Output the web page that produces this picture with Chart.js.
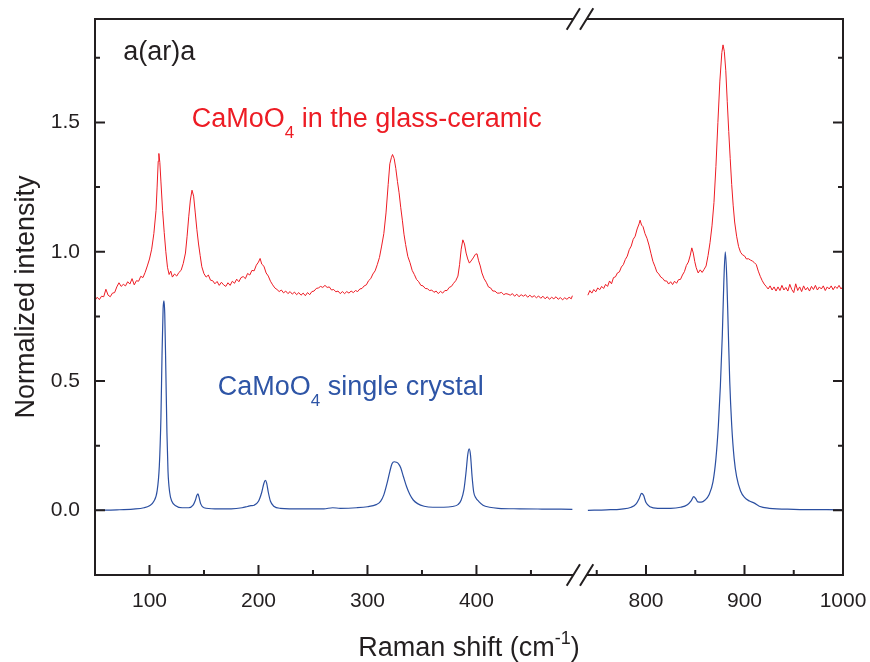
<!DOCTYPE html>
<html lang="en">
<head>
    <meta charset="UTF-8">
    <title>Raman CaMoO4</title>
    <style>
        body {
            margin: 0;
            background-color: #ffffff;
        }
        #contenedor {
            width: 870px;
            height: 662px;
        }
    </style>
</head>
<body>
    <div id="contenedor">
        <canvas id="grafica" width="870" height="662"></canvas>
    </div>

    <script src="https://cdn.jsdelivr.net/npm/chart.js"></script>
    <script>
        // Espectro del vitrocerámico (rojo), tramo bajo y tramo alto, [cm-1, intensidad]
        const rojoBajo = [
            [50,0.812],[52,0.824],[54,0.815],[56,0.828],[58,0.826],[60,0.855],[62,0.832],[64,0.826],[66,0.840],[68,0.842],
            [70,0.864],[72,0.880],[74,0.866],[76,0.874],[78,0.868],[80,0.884],[82,0.875],[84,0.896],[86,0.872],[88,0.888],
            [90,0.886],[92,0.905],[94,0.900],[96,0.920],[98,0.945],[100,0.972],[102,1.010],[104,1.070],[106,1.160],[107,1.250],
            [108,1.350],[108.6,1.380],[109.5,1.345],[110.5,1.270],[112,1.160],[113.5,1.075],[115,1.000],[116.5,0.940],[118,0.912],[119.5,0.925],
            [121,0.902],[123,0.914],[125,0.906],[127,0.920],[129,0.928],[131,0.955],[133,0.995],[134.5,1.060],[136,1.135],[137.5,1.200],
            [139,1.238],[140.5,1.215],[142,1.150],[143.5,1.085],[145,1.030],[146.5,0.985],[148,0.942],[150,0.915],[152,0.902],[154,0.910],
            [156,0.890],[158,0.888],[160,0.876],[162,0.885],[164,0.870],[166,0.882],[168,0.872],[170,0.866],[172,0.880],[174,0.870],
            [176,0.886],[178,0.878],[180,0.894],[182,0.884],[184,0.900],[186,0.904],[188,0.896],[190,0.916],[192,0.910],[194,0.928],
            [196,0.926],[198,0.948],[200,0.960],[201.5,0.974],[203,0.952],[205,0.944],[207,0.918],[209,0.906],[211,0.886],[213,0.872],
            [215,0.860],[217,0.854],[219,0.846],[221,0.852],[223,0.841],[225,0.848],[227,0.838],[229,0.846],[231,0.836],[233,0.844],
            [235,0.834],[237,0.842],[239,0.832],[241,0.840],[243,0.830],[245,0.842],[247,0.834],[249,0.846],[251,0.848],[253,0.858],
            [255,0.860],[257,0.866],[259,0.862],[261,0.870],[263,0.862],[265,0.864],[267,0.852],[269,0.854],[271,0.845],[273,0.848],
            [275,0.838],[277,0.846],[279,0.838],[281,0.846],[283,0.840],[285,0.848],[287,0.842],[289,0.850],[291,0.846],[293,0.856],
            [295,0.858],[297,0.868],[299,0.872],[301,0.888],[303,0.896],[305,0.914],[307,0.926],[309,0.950],[311,0.978],[313,1.022],
            [315,1.070],[317,1.150],[319,1.260],[320.5,1.340],[322,1.365],[323,1.376],[324.5,1.360],[326,1.322],[327.5,1.272],[329,1.228],
            [330.5,1.172],[332,1.122],[333.5,1.068],[335,1.028],[337,0.982],[339,0.958],[341,0.928],[343,0.912],[345,0.893],[347,0.884],
            [349,0.870],[351,0.868],[353,0.858],[355,0.857],[357,0.850],[359,0.852],[361,0.843],[363,0.848],[365,0.838],[367,0.847],
            [369,0.840],[371,0.850],[373,0.850],[375,0.862],[377,0.866],[379,0.878],[381,0.888],[383,0.906],[384.5,0.950],[386,1.010],
            [387.5,1.046],[389,1.030],[390.5,0.995],[392,0.972],[393.5,0.956],[395,0.964],[397,0.976],[399,0.990],[400.5,0.992],[402,0.965],
            [403.5,0.945],[405,0.918],[407,0.896],[409,0.882],[411,0.864],[413,0.860],[415,0.848],[417,0.848],[419,0.840],[421,0.840],
            [423,0.843],[425,0.834],[427,0.838],[429,0.836],[431,0.832],[433,0.838],[435,0.828],[437,0.836],[439,0.826],[441,0.834],
            [443,0.828],[445,0.834],[447,0.824],[449,0.832],[451,0.824],[453,0.830],[455,0.822],[457,0.829],[459,0.820],[461,0.828],
            [463,0.818],[465,0.826],[467,0.816],[469,0.824],[471,0.818],[473,0.826],[475,0.816],[477,0.823],[479,0.814],[481,0.822],
            [483,0.816],[485,0.824],[487,0.818],[488,0.830]
        ];
        const rojoAlto = [
            [741,0.832],[743,0.850],[745,0.840],[747,0.854],[749,0.845],[751,0.860],[753,0.853],[755,0.866],[757,0.858],[759,0.874],
            [761,0.866],[763,0.887],[765,0.876],[767,0.900],[769,0.903],[771,0.918],[773,0.922],[775,0.941],[777,0.950],[779,0.970],
            [781,0.983],[783,1.008],[785,1.022],[787,1.048],[789,1.060],[791,1.088],[793,1.108],[794,1.122],[795.5,1.103],[797,1.097],
            [799,1.070],[801,1.052],[803,1.026],[805,0.994],[807,0.963],[809,0.944],[811,0.922],[813,0.914],[815,0.902],[817,0.897],
            [819,0.887],[821,0.887],[823,0.875],[825,0.884],[827,0.873],[829,0.886],[831,0.878],[833,0.892],[835,0.893],[837,0.910],
            [839,0.923],[841,0.947],[843,0.960],[845,0.987],[846.5,1.015],[848,0.995],[849.5,0.962],[851,0.938],[853,0.918],[855,0.930],
            [857,0.920],[859,0.932],[861,0.945],[863,0.985],[865,1.035],[867,1.100],[869,1.190],[871,1.330],[873,1.500],[875,1.660],
            [877,1.770],[878.2,1.800],[879.5,1.775],[881,1.700],[882.5,1.580],[884,1.465],[885.5,1.360],[887,1.260],[888.5,1.180],[890,1.115],
            [892,1.060],[894,1.020],[896,0.998],[898,0.988],[900,0.984],[902,0.972],[904,0.973],[906,0.968],[908,0.964],[910,0.958],
            [912,0.950],[914,0.925],[916,0.905],[918,0.888],[920,0.875],[922,0.866],[924,0.856],[926,0.868],[928,0.852],[930,0.864],
            [932,0.848],[934,0.864],[936,0.850],[938,0.870],[940,0.852],[942,0.862],[944,0.848],[946,0.874],[948,0.854],[950,0.842],
            [952,0.876],[954,0.850],[956,0.864],[958,0.846],[960,0.868],[962,0.852],[964,0.862],[966,0.848],[968,0.866],[970,0.854],
            [972,0.870],[974,0.852],[976,0.864],[978,0.856],[980,0.868],[982,0.850],[984,0.864],[986,0.856],[988,0.868],[990,0.853],
            [992,0.866],[994,0.858],[996,0.870],[998,0.856],[1000,0.866]
        ];

        // Espectro del monocristal (azul)
        const azulBajo = [
            [50,0.000],[70,0.002],[85,0.005],[95,0.010],[100,0.018],[104,0.035],[107,0.075],[109,0.170],[110.5,0.360],[111.5,0.600],
            [112.5,0.780],[113.3,0.810],[114,0.760],[115,0.540],[116,0.300],[117,0.150],[118.5,0.070],[120.5,0.035],[124,0.018],[130,0.010],
            [136,0.010],[140,0.020],[142,0.038],[143.5,0.058],[144.5,0.064],[145.5,0.050],[147,0.025],[150,0.010],[160,0.006],[175,0.006],
            [185,0.010],[190,0.015],[193,0.018],[196,0.020],[200,0.035],[203,0.070],[205,0.105],[206.3,0.116],[207.5,0.105],[209,0.070],
            [211,0.035],[214,0.016],[220,0.008],[240,0.006],[260,0.006],[268,0.010],[275,0.008],[290,0.010],[300,0.014],[308,0.022],
            [312,0.035],[315,0.060],[318,0.105],[320.5,0.150],[322.5,0.180],[324.5,0.188],[326.5,0.186],[328.5,0.180],[330.5,0.165],[333,0.130],
            [336,0.090],[339,0.060],[342,0.040],[346,0.026],[352,0.016],[360,0.012],[370,0.012],[378,0.015],[383,0.022],[386,0.040],
            [388.5,0.080],[390.5,0.150],[392,0.215],[393.3,0.238],[394.5,0.215],[396,0.130],[397.5,0.070],[399.5,0.048],[402,0.035],[406,0.020],
            [412,0.012],[420,0.008],[440,0.006],[460,0.005],[488,0.004]
        ];
        const azulAlto = [
            [741,0.000],[760,0.002],[775,0.005],[785,0.012],[790,0.025],[793,0.045],[795.5,0.066],[797.5,0.058],[800,0.030],[804,0.014],
            [812,0.008],[825,0.008],[835,0.012],[842,0.022],[846,0.038],[848.5,0.053],[850.5,0.045],[852.5,0.033],[856,0.032],[860,0.040],
            [864,0.060],[868,0.110],[871,0.200],[873.5,0.330],[875.5,0.480],[877.5,0.680],[879,0.880],[880.5,1.000],[882,0.900],[883.5,0.700],
            [885,0.500],[887,0.330],[889.5,0.200],[892,0.130],[896,0.075],[900,0.050],[905,0.036],[910,0.028],[915,0.016],[925,0.008],
            [950,0.004],[1000,0.002]
        ];

        // Marcas de los ejes
        const ticksBajo = [100, 200, 300, 400];
        const menoresBajo = [150, 250, 350, 450];
        const ticksAlto = [800, 900, 1000];
        const menoresAlto = [750, 850, 950];
        const ticksY = [0, 0.5, 1.0, 1.5];
        const menoresY = [0.25, 0.75, 1.25, 1.75];

        const FUENTE = '"Liberation Sans", Arial, sans-serif';
        const NEGRO = '#231f20';
        const ROJO = '#ed1c24';
        const AZUL = '#2b4fa1';

        const aPuntos = pares => pares.map(([x, y]) => ({ x, y }));

        function serie(datos, color, ancho, eje, suave) {
            return {
                data: aPuntos(datos),
                xAxisID: eje,
                yAxisID: 'y',
                borderColor: color,
                borderWidth: ancho,
                pointRadius: 0,
                fill: false,
                tension: 0,
                cubicInterpolationMode: suave ? 'monotone' : 'default'
            };
        }

        // Eje x partido: dos escalas apiladas en la misma franja inferior
        function ejeX(min, max, peso, ticks) {
            return {
                type: 'linear',
                axis: 'x',
                position: 'bottom',
                stack: 'raman',
                stackWeight: peso,
                min: min,
                max: max,
                grid: { display: false, drawTicks: false },
                border: { display: false },
                ticks: {
                    color: NEGRO,
                    font: { family: FUENTE, size: 21 },
                    padding: 14,
                    maxRotation: 0,
                    autoSkip: false,
                    callback: v => String(v)
                },
                afterBuildTicks: s => { s.ticks = ticks.map(v => ({ value: v })); },
                afterFit: s => {
                    s.height = 87;
                    s.paddingLeft = 0;
                    s.paddingRight = 0;
                }
            };
        }

        // Texto con sub/superíndices: trozos [texto, tamaño, desplazamiento vertical]
        function textoCompuesto(ctx, trozos, x, y, color) {
            ctx.fillStyle = color;
            ctx.textAlign = 'left';
            ctx.textBaseline = 'alphabetic';
            let cx = x;
            for (const [t, tam, dy] of trozos) {
                ctx.font = tam + 'px ' + FUENTE;
                ctx.fillText(t, cx, y + dy);
                cx += ctx.measureText(t).width;
            }
            return cx - x;
        }

        const marco = {
            id: 'marco',
            afterDatasetsDraw(chart) {
                const { ctx, chartArea: { left, right, top, bottom }, scales } = chart;
                ctx.save();
                ctx.strokeStyle = NEGRO;
                ctx.lineWidth = 2;
                ctx.strokeRect(left, top, right - left, bottom - top);

                ctx.beginPath();
                // marcas hacia dentro en el eje y (izquierda y derecha)
                for (const v of ticksY.concat(menoresY)) {
                    const py = scales.y.getPixelForValue(v);
                    const l = ticksY.includes(v) ? 10 : 5;
                    ctx.moveTo(left, py); ctx.lineTo(left + l, py);
                    ctx.moveTo(right, py); ctx.lineTo(right - l, py);
                }
                // marcas del eje x
                const marcasX = [
                    [scales.xBajo, ticksBajo, 10], [scales.xBajo, menoresBajo, 5],
                    [scales.xAlto, ticksAlto, 10], [scales.xAlto, menoresAlto, 5]
                ];
                for (const [esc, vals, l] of marcasX) {
                    for (const v of vals) {
                        const px = esc.getPixelForValue(v);
                        ctx.moveTo(px, bottom); ctx.lineTo(px, bottom - l);
                    }
                }
                ctx.stroke();

                // corte del eje: hueco y dos barras inclinadas
                const xc = scales.xBajo.right;
                for (const yb of [top, bottom]) {
                    ctx.fillStyle = '#ffffff';
                    ctx.fillRect(xc - 6.5, yb - 2, 13, 4);
                    ctx.beginPath();
                    ctx.moveTo(xc - 13.3, yb + 10.7); ctx.lineTo(xc, yb - 10.7);
                    ctx.moveTo(xc, yb + 10.7); ctx.lineTo(xc + 13.3, yb - 10.7);
                    ctx.stroke();
                }
                ctx.restore();
            },
            afterDraw(chart) {
                const { ctx, chartArea, scales } = chart;
                const xb = scales.xBajo, y = scales.y;
                ctx.save();
                // rótulos dentro del área
                textoCompuesto(ctx, [['a(ar)a', 27, 0]], xb.getPixelForValue(76), y.getPixelForValue(1.743), NEGRO);
                textoCompuesto(ctx, [['CaMoO', 27, 0], ['4', 17, 11], [' in the glass-ceramic', 27, 0]],
                    xb.getPixelForValue(138.7), y.getPixelForValue(1.483), ROJO);
                textoCompuesto(ctx, [['CaMoO', 27, 0], ['4', 17, 11], [' single crystal', 27, 0]],
                    xb.getPixelForValue(162.6), y.getPixelForValue(0.446), '#2e55a6');

                // título del eje x, común a los dos tramos
                const trozos = [['Raman shift (cm', 27, 0], ['-1', 18, -12], [')', 27, 0]];
                let ancho = 0;
                for (const [t, tam] of trozos) {
                    ctx.font = tam + 'px ' + FUENTE;
                    ancho += ctx.measureText(t).width;
                }
                const cx = (chartArea.left + chartArea.right) / 2;
                textoCompuesto(ctx, trozos, cx - ancho / 2, 656, NEGRO);
                ctx.restore();
            }
        };

        new Chart(document.getElementById('grafica').getContext('2d'), {
            type: 'line',
            data: {
                datasets: [
                    serie(rojoBajo, ROJO, 1, 'xBajo', false),
                    serie(rojoAlto, ROJO, 1, 'xAlto', false),
                    serie(azulBajo, AZUL, 1.2, 'xBajo', true),
                    serie(azulAlto, AZUL, 1.2, 'xAlto', true)
                ]
            },
            options: {
                responsive: false,
                animation: false,
                devicePixelRatio: 1,
                layout: { padding: { left: 0, right: 27, top: 19, bottom: 0 } },
                plugins: {
                    legend: { display: false },
                    tooltip: { enabled: false }
                },
                scales: {
                    xBajo: ejeX(50, 495, 485, ticksBajo),
                    xAlto: ejeX(733, 1000, 263, ticksAlto),
                    y: {
                        type: 'linear',
                        position: 'left',
                        min: -0.25,
                        max: 1.9,
                        grid: { display: false, drawTicks: false },
                        border: { display: false },
                        title: {
                            display: true,
                            text: 'Normalized intensity',
                            color: NEGRO,
                            font: { family: FUENTE, size: 27 },
                            padding: { top: 10 }
                        },
                        ticks: {
                            color: NEGRO,
                            font: { family: FUENTE, size: 21 },
                            padding: 15,
                            callback: v => Number(v).toFixed(1)
                        },
                        afterBuildTicks: s => { s.ticks = ticksY.map(v => ({ value: v })); },
                        afterFit: s => {
                            s.width = 95;
                            s.paddingTop = 0;
                            s.paddingBottom = 0;
                        }
                    }
                }
            },
            plugins: [marco]
        });
    </script>
</body>
</html>
